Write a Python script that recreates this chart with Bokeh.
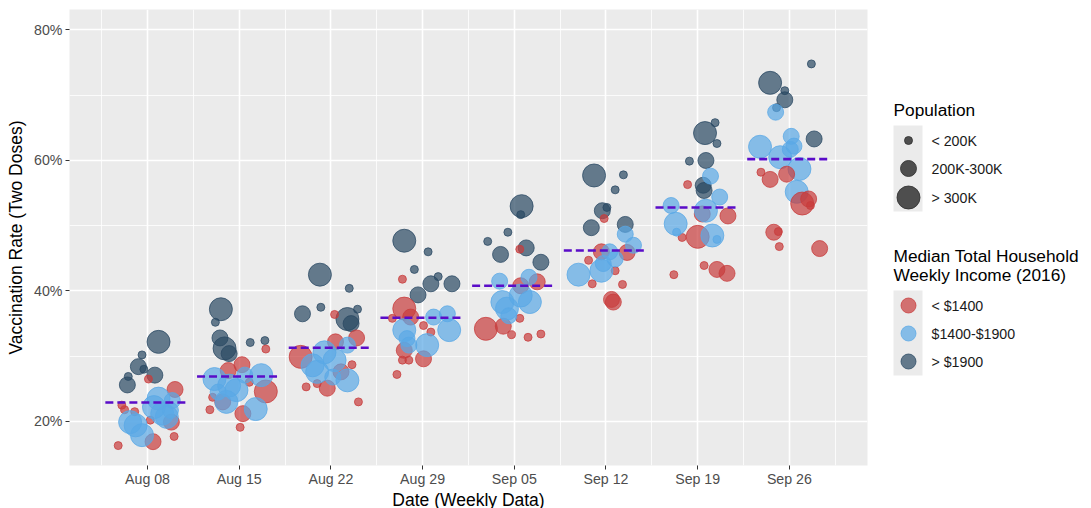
from bokeh.plotting import figure
from bokeh.models import Range1d, FixedTicker, PrintfTickFormatter, ColumnDataSource
from bokeh.layouts import row
from bokeh.embed import file_html
from bokeh.resources import INLINE
from bokeh.core.properties import value

FONT = "Liberation Sans"

weeks = ["Aug 08", "Aug 15", "Aug 22", "Aug 29", "Sep 05", "Sep 12", "Sep 19", "Sep 26"]
medians = [22.9, 26.9, 31.3, 35.9, 40.8, 46.2, 52.8, 60.2]

# income code: L = < $1400, M = $1400-$1900, H = > $1900
# population code: s = < 200K, m = 200K-300K, l = > 300K
aug08_val = [32.2, 30.2, 28.4, 28.0, 27.1, 26.9, 25.6,
             24.9, 26.5, 22.5, 21.8, 21.5, 20.2, 19.9, 17.7, 16.9, 16.3,
             23.5, 23.2, 19.4, 17.9, 21.2, 20.7, 19.9, 22.2, 21.7]
aug08_jit = [0.12, -0.06, -0.10, -0.04, 0.08, -0.21, -0.22,
             0.30, 0.01, -0.28, -0.25, -0.14, 0.03, 0.26, 0.29, 0.06, -0.32,
             0.12, 0.27, -0.13, -0.06, 0.16, 0.21, -0.19, 0.07, 0.25]
aug08_inc = "HHHHHHH" + "LLLLLLLLLL" + "MMMMMMMMM"
aug08_pop = "lsmsmsm" + "msssssmsms" + "lmllllllm"

aug15_val = [37.2, 35.2, 32.8, 31.2, 30.4, 32.1, 32.4,
             31.1, 28.7, 27.8, 26.0, 24.6, 23.7, 21.8, 23.0, 21.2, 19.1,
             26.5, 25.5, 24.8, 27.1, 21.9, 23.0, 24.5, 27.1]
aug15_jit = [-0.20, -0.26, -0.21, -0.16, -0.11, 0.12, 0.28,
             0.29, 0.03, -0.12, 0.11, 0.29, -0.29, -0.32, -0.18, 0.04, 0.01,
             -0.27, -0.11, -0.03, 0.24, 0.18, -0.14, -0.23, 0.06]
aug15_inc = "HHHHHHH" + "LLLLLLLLLL" + "MMMMMMMM"
aug15_pop = "lsmlmss" + "smmslssmms" + "llllllmm"

aug22_val = [42.5, 40.4, 36.5, 37.5, 37.2, 35.7, 35.0,
             36.4, 32.8, 32.2, 29.9, 25.3, 25.8, 25.1, 28.7, 23.0, 27.6,
             28.6, 29.4, 26.3, 31.7, 30.6, 27.6, 26.8]
aug22_jit = [-0.12, 0.20, -0.31, -0.11, 0.29, 0.18, 0.22,
             0.04, 0.28, 0.05, -0.33, -0.27, -0.15, -0.04, 0.23, 0.30, 0.11,
             -0.20, 0.04, 0.18, 0.18, -0.07, -0.15, 0.02]
aug22_inc = "HHHHHHH" + "LLLLLLLLLL" + "MMMMMMM"
aug22_pop = "lsmsslm" + "smmlssmssm" + "lllmllm"

aug29_val = [47.7, 46.0, 43.3, 42.2, 41.1, 41.1, 39.4,
             41.8, 37.3, 36.0, 35.8, 34.7, 33.7, 30.9, 29.4, 29.4, 29.6, 27.2,
             34.0, 36.0, 36.5, 34.0, 31.7, 32.7, 31.7]
aug29_jit = [-0.20, 0.06, -0.09, 0.17, 0.09, 0.32, -0.05,
             -0.22, -0.20, -0.13, -0.33, 0.01, 0.09, -0.20, -0.22, -0.15, 0.01, -0.28,
             -0.20, 0.12, 0.27, 0.29, 0.05, -0.17, -0.15]
aug29_inc = "HHHHHHH" + "LLLLLLLLLLL" + "MMMMMMM"
aug29_pop = "lsssmmm" + "slmsssmssms" + "lmmllmm"

sep05_val = [53.0, 51.7, 47.6, 49.0, 46.6, 45.6, 44.4,
             46.4, 41.4, 40.8, 34.2, 34.6, 33.3, 32.9, 33.4, 35.8,
             41.5, 42.1, 37.3, 38.3, 38.3, 39.3, 36.2]
sep05_jit = [0.08, 0.07, -0.29, -0.07, 0.13, -0.15, 0.29,
             0.06, 0.25, 0.07, -0.31, -0.12, -0.03, 0.15, 0.29, 0.06,
             -0.16, 0.16, -0.08, 0.17, -0.13, 0.07, -0.06]
sep05_inc = "HHHHHHH" + "LLLLLLLLL" + "MMMMMMM"
sep05_pop = "lsssmmm" + "smmlmssss" + "mmllllm"

sep12_val = [57.7, 57.8, 55.5, 52.3, 52.8, 49.7, 50.2,
             51.1, 46.0, 45.9, 44.7, 43.1, 41.1, 41.0, 38.7, 38.3,
             48.7, 47.0, 42.5, 43.1, 44.9, 44.2, 46.0]
sep12_jit = [-0.13, 0.19, 0.10, -0.04, 0.01, -0.16, 0.21,
             -0.02, -0.05, 0.23, -0.19, 0.10, -0.15, 0.18, 0.06, 0.08,
             0.21, 0.30, -0.30, -0.05, 0.10, -0.03, 0.04]
sep12_inc = "HHHHHHH" + "LLLLLLLLL" + "MMMMMMM"
sep12_pop = "lssmsmm" + "smmssssmm" + "mmllmmm"

sep19_val = [64.2, 65.8, 62.6, 59.9, 60.0, 56.2, 55.4,
             56.3, 51.5, 48.3, 48.2, 42.5, 43.9, 43.3, 42.7, 51.8,
             53.1, 50.3, 57.6, 54.4, 52.3, 48.5, 47.9, 49.0]
sep19_jit = [0.08, 0.19, 0.21, -0.09, 0.09, 0.06, 0.07,
             -0.11, 0.33, 0.00, -0.17, -0.26, 0.07, 0.21, 0.32, 0.05,
             -0.29, -0.24, 0.14, 0.24, 0.09, 0.16, 0.21, -0.23]
sep19_inc = "HHHHHHH" + "LLLLLLLLL" + "MMMMMMMM"
sep19_pop = "lsssmmm" + "smlsssmmm" + "mlmmllss"

sep26_val = [74.8, 71.9, 70.7, 69.3, 68.1, 63.3,
             67.4, 63.7, 62.1, 61.7, 60.5, 58.7, 55.2, 62.2,
             58.2, 57.1, 57.9, 53.4, 53.1, 54.1, 49.0, 49.1, 46.8, 46.5]
sep26_jit = [0.24, -0.21, -0.05, -0.05, -0.14, 0.27,
             -0.15, 0.02, -0.32, 0.01, -0.10, 0.11, 0.08, 0.05,
             -0.31, -0.21, -0.03, 0.14, 0.23, 0.21, -0.17, -0.12, -0.11, 0.33]
sep26_inc = "HHHHHH" + "MMMMMMMM" + "LLLLLLLLLL"
sep26_pop = "slsmsm" + "mmlmlllm" + "smmlsmmssm"

weekly = [
    (aug08_val, aug08_jit, aug08_inc, aug08_pop),
    (aug15_val, aug15_jit, aug15_inc, aug15_pop),
    (aug22_val, aug22_jit, aug22_inc, aug22_pop),
    (aug29_val, aug29_jit, aug29_inc, aug29_pop),
    (sep05_val, sep05_jit, sep05_inc, sep05_pop),
    (sep12_val, sep12_jit, sep12_inc, sep12_pop),
    (sep19_val, sep19_jit, sep19_inc, sep19_pop),
    (sep26_val, sep26_jit, sep26_inc, sep26_pop),
]

income_labels = ["< $1400", "$1400-$1900", "> $1900"]
income_codes = ["L", "M", "H"]
pop_labels = ["< 200K", "200K-300K", "> 300K"]
pop_codes = ["s", "m", "l"]

# styles
COLORS = {"L": "#C83C3C", "M": "#5AA8E6", "H": "#2A4863"}
SIZES = {"s": 8, "m": 16, "l": 23}
PANEL = "#EBEBEB"

xs, ys, cs, ss = [], [], [], []
for w, (vals, jit, inc, pop) in enumerate(weekly, start=1):
    for v, j, i, s in zip(vals, jit, inc, pop):
        xs.append(w + j)
        ys.append(v)
        cs.append(COLORS[i])
        ss.append(SIZES[s])
src = ColumnDataSource(dict(x=xs, y=ys, color=cs, size=ss))

TOP, LB, FW, FH, RB = 9, 69, 798, 456, 6
p = figure(frame_width=FW, frame_height=FH, x_range=Range1d(0.149, 8.852), y_range=Range1d(13.25, 83.14),
           output_backend="svg", toolbar_location=None,
           min_border_left=LB, min_border_right=RB, min_border_top=TOP, min_border_bottom=20)
p.background_fill_color = PANEL
p.border_fill_color = "white"
p.outline_line_color = None

p.xaxis.ticker = FixedTicker(ticks=list(range(1, 9)), minor_ticks=[0.5 + k for k in range(9)])
p.xaxis.major_label_overrides = {k + 1: lab for k, lab in enumerate(weeks)}
p.yaxis.ticker = FixedTicker(ticks=[20, 40, 60, 80], minor_ticks=[10, 30, 50, 70])
p.yaxis.formatter = PrintfTickFormatter(format="%d%%")

for ax in (p.xaxis, p.yaxis):
    ax.axis_line_color = None
    ax.minor_tick_line_color = None
    ax.major_tick_line_color = "#333333"
    ax.major_tick_in = 0
    ax.major_tick_out = 4
    ax.major_label_text_font = FONT
    ax.major_label_text_font_size = "14.2px"
    ax.major_label_text_color = "#4D4D4D"
    ax.axis_label_text_font = FONT
    ax.axis_label_text_font_size = "17.5px"
    ax.axis_label_text_font_style = "normal"
    ax.axis_label_text_color = "#000000"
p.xaxis.major_label_standoff = 1
p.xaxis.axis_label_standoff = 0
p.yaxis.major_label_standoff = 3
p.yaxis.axis_label_standoff = 5
p.xaxis.axis_label = "Date (Weekly Data)"
p.yaxis.axis_label = "Vaccination Rate (Two Doses)"

for g in (p.xgrid, p.ygrid):
    g.grid_line_color = "white"
    g.grid_line_width = 1.6
    g.minor_grid_line_color = "white"
    g.minor_grid_line_width = 0.8

p.scatter(x="x", y="y", size="size", fill_color="color", line_color="color",
          fill_alpha=0.7, line_alpha=0.75, line_width=1, source=src)

wk = list(range(1, 9))
p.segment(x0=[w - 0.46 for w in wk], x1=[w + 0.45 for w in wk], y0=medians, y1=medians,
          line_color="#5A0CC8", line_width=2.6, line_dash="8 4")

# ---- legend panel (ranges expressed in page pixels) ----
LEFT = LB + FW + RB
LW = 1090 - LEFT
leg = figure(frame_width=LW, frame_height=FH, x_range=Range1d(LEFT, LEFT + LW),
             y_range=Range1d(TOP + FH, TOP),
             output_backend="svg", toolbar_location=None, x_axis_type=None, y_axis_type=None,
             min_border=0, min_border_top=TOP)
leg.grid.visible = False
leg.outline_line_color = None
leg.background_fill_color = "white"
leg.border_fill_color = "white"

key_x = 908
pop_y = [140, 168, 197]
inc_y = [305, 333, 361]
leg.quad(left=[893, 893], right=[922, 922], top=[125, 290], bottom=[211, 375],
         fill_color=PANEL, line_color=None)
leg.scatter(x=[key_x] * 3, y=pop_y, size=[SIZES[c] for c in pop_codes],
            fill_color="#333333", line_color="#333333", fill_alpha=0.85, line_alpha=0.85)
leg.scatter(x=[key_x] * 3, y=inc_y, size=15, fill_color=[COLORS[c] for c in income_codes],
            line_color=[COLORS[c] for c in income_codes], fill_alpha=0.7, line_alpha=0.75)
leg.text(x=[931] * 6, y=pop_y + inc_y, text=pop_labels + income_labels,
         text_font=value(FONT), text_font_size="14.2px", text_baseline="middle",
         text_color="#1A1A1A")
leg.text(x=[893, 893, 893], y=[109, 255, 274],
         text=["Population", "Median Total Household", "Weekly Income (2016)"],
         text_font=value(FONT), text_font_size="17.3px", text_baseline="middle",
         text_color="#000000")

layout = row(p, leg)
open("out.html", "w").write(file_html(layout, INLINE))
